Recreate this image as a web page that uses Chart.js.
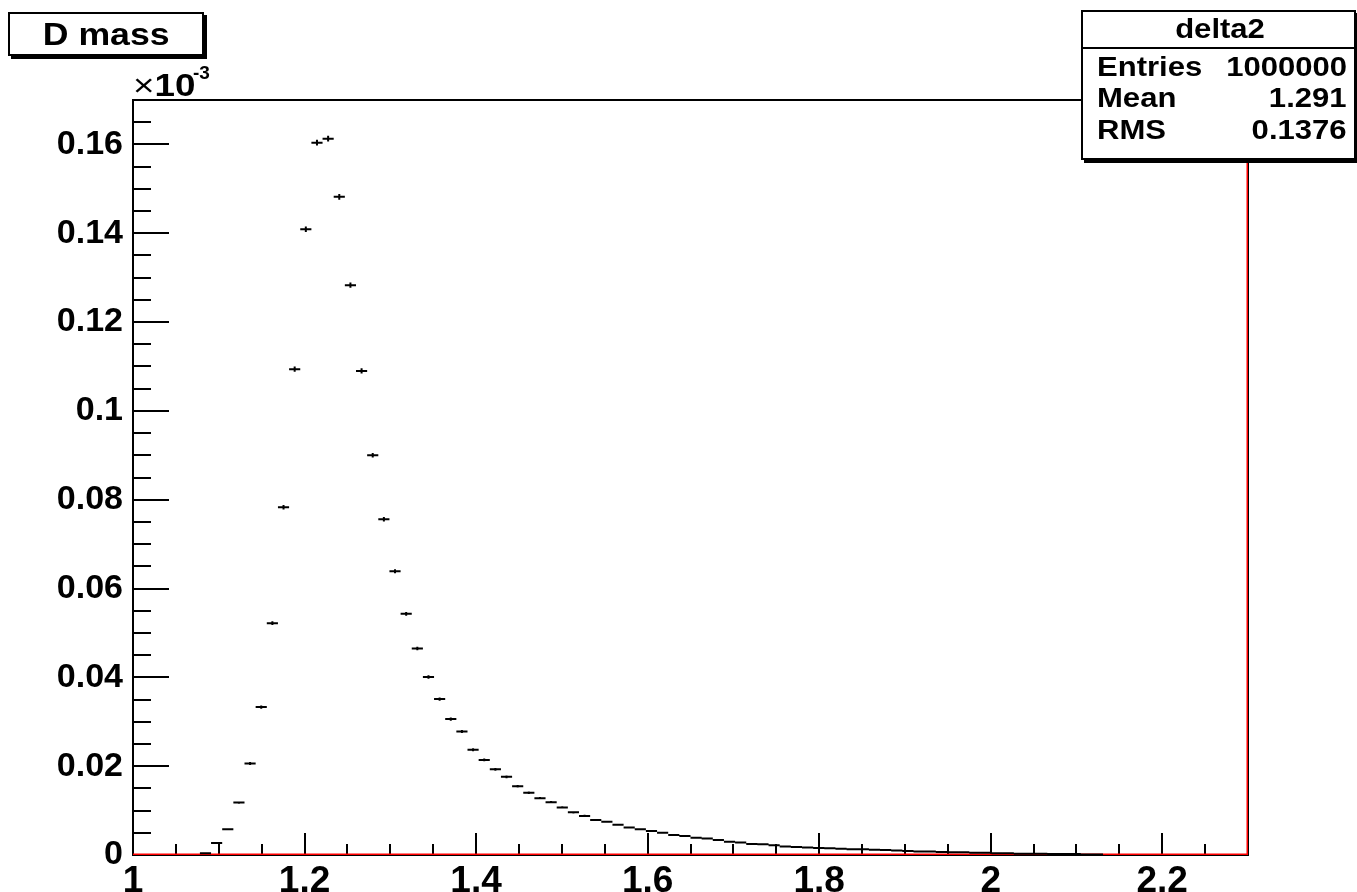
<!DOCTYPE html>
<html>
<head>
<meta charset="utf-8">
<title>D mass</title>
<script src="https://cdn.jsdelivr.net/npm/chart.js@4.4.1/dist/chart.umd.min.js"></script>
<style>
  body { margin: 0; background: #fff; overflow: hidden; }
  #wrap { position: relative; width: 1357px; height: 892px; }
  canvas { position: absolute; left: 0; top: 0; }
  .txt { position: absolute; font-family: 'Liberation Sans', Arial, sans-serif; font-weight: bold; line-height: 1; white-space: nowrap; color: #000; }
  .wide { display: inline-block; transform: scaleX(1.15); transform-origin: left center; }
  .wideR { display: inline-block; transform: scaleX(1.15); transform-origin: right center; }
  .wideC { display: inline-block; transform: scaleX(1.15); transform-origin: center center; }
  .box { position: absolute; background: #fff; border: 2px solid #000; box-shadow: 3px 3px 0 #000; box-sizing: border-box; }
</style>
</head>
<body>
<div id="wrap">
  <canvas id="massChart" width="1357" height="892"></canvas>

  <!-- title box -->
  <div class="box" style="left:8px; top:12px; width:196px; height:44px;"></div>
  <div class="txt" style="left:8px; top:19px; width:196px; text-align:center; font-size:31px;"><span class="wideC">D mass</span></div>

  <!-- axis exponent -->
  <div class="txt" style="left:133px; top:69px; font-size:32px;"><span class="wide"><span style="font-weight:normal">×</span>10</span></div>
  <div class="txt" style="left:193px; top:63px; font-size:19px;">-3</div>

  <!-- stats box -->
  <div class="box" style="left:1081px; top:10px; width:275px; height:150px;">
    <div style="position:absolute; left:0; right:0; top:35px; height:2px; background:#000;"></div>
  </div>
  <div class="txt" style="left:1083px; top:16px; width:275px; text-align:center; font-size:27px;"><span class="wideC">delta2</span></div>
  <div class="txt" style="left:1097px; top:54px; font-size:27px;"><span class="wide">Entries</span></div>
  <div class="txt" style="right:10px; top:54px; font-size:27px;"><span class="wideR">1000000</span></div>
  <div class="txt" style="left:1097px; top:85px; font-size:27px;"><span class="wide">Mean</span></div>
  <div class="txt" style="right:10px; top:85px; font-size:27px;"><span class="wideR">1.291</span></div>
  <div class="txt" style="left:1097px; top:117px; font-size:27px;"><span class="wide">RMS</span></div>
  <div class="txt" style="right:10px; top:117px; font-size:27px;"><span class="wideR">0.1376</span></div>
</div>

<script>
// histogram definition: 100 bins from 1.0 to 2.3
const binLow = 1.0;
const binHigh = 2.3;
const nBins = 100;

// bin contents (x 10^-3)
const binValues = [
  0, 0, 0, 0, 0, 0, 0.0004, 0.0027, 0.0058, 0.0118,
  0.0206, 0.0333, 0.0522, 0.0783, 0.1094, 0.1409, 0.1604, 0.1613, 0.1482, 0.1283,
  0.1090, 0.0900, 0.0756, 0.0639, 0.0543, 0.0465, 0.0401, 0.0351, 0.0306, 0.0278,
  0.0237, 0.0214, 0.0193, 0.0176, 0.0155, 0.0140, 0.0128, 0.0119, 0.0107, 0.0096,
  0.0088, 0.0079, 0.0075, 0.0068, 0.0062, 0.0058, 0.0054, 0.0050, 0.0045, 0.0043,
  0.0039, 0.0037, 0.0034, 0.0030, 0.0028, 0.0025, 0.0024, 0.0022, 0.0019, 0.0018,
  0.0017, 0.0016, 0.0015, 0.0014, 0.0013, 0.0013, 0.0012, 0.0011, 0.0010, 0.0009,
  0.0008, 0.0008, 0.0007, 0.0006, 0.0006, 0.0005, 0.0005, 0.0004, 0.0004, 0.0003,
  0.0003, 0.0003, 0.0002, 0.0002, 0.0002, 0.0001, 0.0001, 0, 0, 0,
  0, 0, 0, 0, 0, 0, 0, 0, 0, 0
];

// error bar half heights (x 10^-3)
const binErrors = [
  0, 0, 0, 0, 0, 0, 0.00003, 0.00007, 0.0001, 0.00015,
  0.0002, 0.00025, 0.00031, 0.00039, 0.00046, 0.00052, 0.00055, 0.00055, 0.00053, 0.00049,
  0.00046, 0.00041, 0.00038, 0.00035, 0.00032, 0.0003, 0.00028, 0.00026, 0.00024, 0.00023,
  0.00021, 0.0002, 0.00019, 0.00018, 0.00017, 0.00016, 0.00016, 0.00015, 0.00014, 0.00014,
  0.00013, 0.00012, 0.00012, 0.00011, 0.00011, 0.0001, 0.0001, 0.0001, 0.00009, 0.00009,
  0.00009, 0.00008, 0.00008, 0.00008, 0.00007, 0.00007, 0.00007, 0.00006, 0.00006, 0.00006,
  0.00006, 0.00006, 0.00005, 0.00005, 0.00005, 0.00005, 0.00005, 0.00005, 0.00004, 0.00004,
  0.00004, 0.00004, 0.00004, 0.00003, 0.00003, 0.00003, 0.00003, 0.00003, 0.00003, 0.00002,
  0.00002, 0.00002, 0.00002, 0.00002, 0.00002, 0.00001, 0.00001, 0, 0, 0,
  0, 0, 0, 0, 0, 0, 0, 0, 0, 0
];

// red outline drawn under the points
const redX = [1.0, 2.3, 2.3];
const redY = [0, 0, 0.17];

const xTickValues = [1.0, 1.2, 1.4, 1.6, 1.8, 2.0, 2.2];
const xTickLabels = ["1", "1.2", "1.4", "1.6", "1.8", "2", "2.2"];
const yTickValues = [0, 0.02, 0.04, 0.06, 0.08, 0.1, 0.12, 0.14, 0.16];
const yTickLabels = ["0", "0.02", "0.04", "0.06", "0.08", "0.1", "0.12", "0.14", "0.16"];

const binWidth = (binHigh - binLow) / nBins;
const points = [];
binValues.forEach((v, i) => {
    if (v > 0) points.push({ x: binLow + (i + 0.5) * binWidth, y: v, err: binErrors[i] });
});

const fontFamily = "'Liberation Sans', Arial, sans-serif";

// frame plus ROOT style ticks inside the frame
const frameAndTicks = {
    id: 'frameAndTicks',
    beforeDatasetsDraw(chart) {
        const { ctx, chartArea: a, scales: { x, y } } = chart;
        ctx.save();
        ctx.strokeStyle = '#000';
        ctx.lineWidth = 2;
        ctx.strokeRect(a.left, a.top, a.right - a.left, a.bottom - a.top);

        ctx.beginPath();
        // x ticks every 0.05, major every 0.2
        for (let k = 0; ; k++) {
            const v = x.min + k * 0.05;
            if (v > x.max + 1e-9) break;
            const px = Math.round(x.getPixelForValue(v));
            const len = k % 4 === 0 ? 22 : 11;
            ctx.moveTo(px, a.bottom);
            ctx.lineTo(px, a.bottom - len);
        }
        // y ticks every 0.005, major every 0.02
        for (let k = 0; ; k++) {
            const v = y.min + k * 0.005;
            if (v > y.max + 1e-9) break;
            const py = Math.round(y.getPixelForValue(v));
            const len = k % 4 === 0 ? 36 : 18;
            ctx.moveTo(a.left, py);
            ctx.lineTo(a.left + len, py);
        }
        ctx.stroke();
        ctx.restore();
    }
};

// horizontal bin-width bar plus vertical error bar for each filled bin
const binMarks = {
    id: 'binMarks',
    afterDatasetsDraw(chart) {
        const { ctx, scales: { x, y } } = chart;
        const ds = chart.data.datasets[0].data;
        ctx.save();
        ctx.strokeStyle = '#000';
        ctx.lineWidth = 2;
        ctx.beginPath();
        ds.forEach(p => {
            const py = y.getPixelForValue(p.y);
            const xl = x.getPixelForValue(p.x - binWidth / 2);
            const xr = x.getPixelForValue(p.x + binWidth / 2);
            const xc = x.getPixelForValue(p.x);
            ctx.moveTo(xl, py);
            ctx.lineTo(xr, py);
            ctx.moveTo(xc, y.getPixelForValue(p.y - p.err) + 0.5);
            ctx.lineTo(xc, y.getPixelForValue(p.y + p.err) - 0.5);
        });
        ctx.stroke();
        ctx.restore();
    }
};

const ctx = document.getElementById('massChart').getContext('2d');
const massChart = new Chart(ctx, {
    type: 'scatter',
    data: {
        datasets: [
            {
                label: 'delta2',
                data: points,
                pointRadius: 0,
                showLine: false,
                order: 1
            },
            {
                type: 'line',
                label: 'outline',
                data: redX.map((v, i) => ({ x: v, y: redY[i] })),
                borderColor: '#ff0000',
                borderWidth: 3,
                pointRadius: 0,
                fill: false,
                tension: 0,
                order: 2
            }
        ]
    },
    options: {
        responsive: false,
        animation: false,
        events: [],
        layout: { padding: { top: 100, right: 109, left: 0, bottom: 0 } },
        plugins: {
            legend: { display: false },
            tooltip: { enabled: false }
        },
        scales: {
            x: {
                type: 'linear',
                min: 1.0,
                max: 2.3,
                grid: { display: false, drawTicks: false },
                border: { display: false },
                afterFit: s => { s.height = 37; },
                afterBuildTicks: s => { s.ticks = xTickValues.map(v => ({ value: v })); },
                ticks: {
                    callback: (v, i) => xTickLabels[i],
                    font: { family: fontFamily, size: 37, weight: 'bold' },
                    color: '#000',
                    padding: 5,
                    autoSkip: false,
                    maxRotation: 0
                }
            },
            y: {
                type: 'linear',
                min: 0,
                max: 0.17,
                grid: { display: false, drawTicks: false },
                border: { display: false },
                afterFit: s => { s.width = 133; },
                afterBuildTicks: s => { s.ticks = yTickValues.map(v => ({ value: v })); },
                ticks: {
                    callback: (v, i) => yTickLabels[i],
                    font: { family: fontFamily, size: 34, weight: 'bold' },
                    color: '#000',
                    padding: 10,
                    autoSkip: false
                }
            }
        }
    },
    plugins: [frameAndTicks, binMarks]
});
</script>
</body>
</html>
